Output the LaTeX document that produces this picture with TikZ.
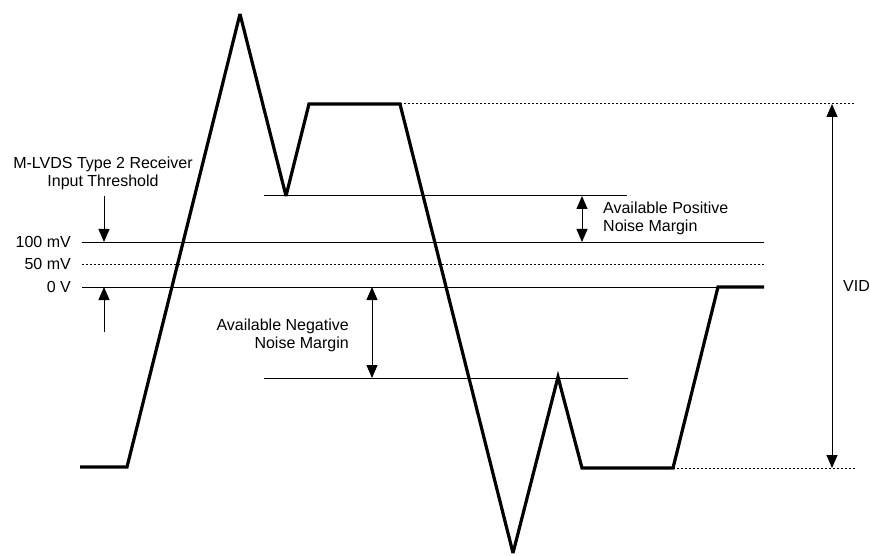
\documentclass[tikz,border=0pt]{standalone}
\usepackage{fontspec}
\setmainfont{Liberation Sans}
\usetikzlibrary{arrows.meta}
\begin{document}
\begin{tikzpicture}[x=1pt,y=-1pt,
  lbl/.style={font=\fontsize{16}{18}\selectfont, inner sep=0pt},
  thin/.style={line width=1pt},
  dotln/.style={line width=1pt, dash pattern=on 2pt off 2pt},
  wave/.style={line width=3.2pt, line join=miter, miter limit=4},
  tip/.style={Triangle[length=13pt,width=11pt]},
  arr/.style={line width=1pt, -{Triangle[length=13pt,width=11pt]}},
  darr/.style={line width=1pt, {Triangle[length=13pt,width=11pt]}-{Triangle[length=13pt,width=11pt]}}]
\useasboundingbox (0,0) rectangle (870,556);
% coordinates
\coordinate (w0) at (80,467);
\coordinate (w1) at (127,467);
\coordinate (w2) at (240,14);
\coordinate (w3) at (286,196);
\coordinate (w4) at (309,104);
\coordinate (w5) at (400,104);
\coordinate (w6) at (513,553);
\coordinate (w7) at (558,377);
\coordinate (w8) at (582,468);
\coordinate (w9) at (673,468);
\coordinate (w10) at (718,287);
\coordinate (w11) at (764,287);
% reference lines
\coordinate (p0) at (264,196); \coordinate (p1) at (627,196);
\coordinate (a0) at (82,242); \coordinate (a1) at (764,242);
\coordinate (b0) at (82,264); \coordinate (b1) at (764,264);
\coordinate (c0) at (82,287);
\coordinate (n0) at (264,378); \coordinate (n1) at (628,378);
\coordinate (t1) at (855,104);
\coordinate (u1) at (855,468);
\draw[thin] (p0) -- (p1);
\draw[thin] (a0) -- (a1);
\draw[dotln] (b0) -- (b1);
\draw[thin] (c0) -- (w10);
\draw[thin] (n0) -- (n1);
\draw[dotln] (w5) -- (t1);
\draw[dotln] (w9) -- (u1);
% waveform
\draw[wave] (w0) -- (w1) -- (w2) -- (w3) -- (w4) -- (w5) -- (w6) -- (w7) -- (w8) -- (w9) -- (w10) -- (w11);
% labels
\node[lbl, align=center] (thr) at (103,173) {M-LVDS Type 2 Receiver\\Input Threshold};
\node[lbl, anchor=east] (l100) at (71,242) {100 mV};
\node[lbl, anchor=east] (l50) at (71,264) {50 mV};
\node[lbl, anchor=east] (l0) at (71,287) {0 V};
\coordinate (ad0) at (104,196); \coordinate (ad1) at (104,242);
\coordinate (au0) at (104,332); \coordinate (au1) at (104,287);
\draw[arr] (ad0) -- (ad1);
\draw[arr] (au0) -- (au1);
\coordinate (pm0) at (582,196); \coordinate (pm1) at (582,242);
\draw[darr] (pm0) -- (pm1);
\node[lbl, anchor=west, align=left] (pos) at (603,218) {Available Positive\\Noise Margin};
\coordinate (nm0) at (372,287); \coordinate (nm1) at (372,378);
\draw[darr] (nm0) -- (nm1);
\node[lbl, anchor=east, align=right] (neg) at (349,335) {Available Negative\\Noise Margin};
\coordinate (v0) at (832,104); \coordinate (v1) at (832,468);
\draw[darr] (v0) -- (v1);
\node[lbl, anchor=west] (vid) at (843,286) {VID};
\end{tikzpicture}
\end{document}
